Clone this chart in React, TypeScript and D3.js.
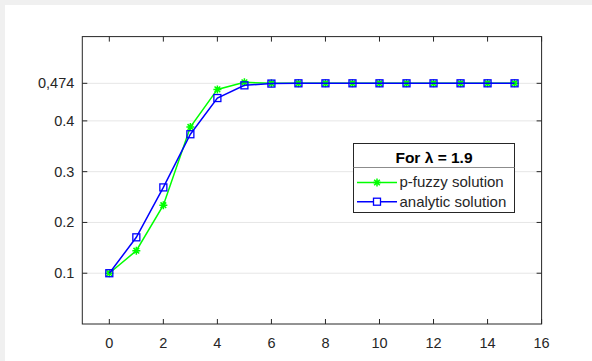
import React from 'react';
import * as d3 from 'd3';

// values
const steps = [0, 1, 2, 3, 4, 5, 6, 7, 8, 9, 10, 11, 12, 13, 14, 15];
const fuzzyValues = [0.1, 0.1444, 0.234, 0.388, 0.462, 0.476, 0.474, 0.474, 0.474, 0.474, 0.474, 0.474, 0.474, 0.474, 0.474, 0.474];
const analyticValues = [0.1, 0.1707, 0.269, 0.3737, 0.445, 0.47, 0.4735, 0.474, 0.474, 0.474, 0.474, 0.474, 0.474, 0.474, 0.474, 0.474];
const xTicks = [0, 2, 4, 6, 8, 10, 12, 14, 16];
const yTicks = [0.1, 0.2, 0.3, 0.4, 0.474];
const yTickLabels = ['0.1', '0.2', '0.3', '0.4', '0,474'];
const legendTitle = 'For \u03bb = 1.9';
const seriesNames = ['p-fuzzy solution', 'analytic solution'];

const W = 592;
const H = 361;
const left = 82.3;
const right = 541.6;
const top = 36.6;
const bottom = 324;
const font = '"Liberation Sans", Arial, Helvetica, sans-serif';
const textColor = '#262626';
const axisColor = '#262626';

const star = (cx: number, cy: number, r: number) => {
  let d = '';
  for (let k = 0; k < 4; k++) {
    const a = (k * Math.PI) / 4;
    const dx = r * Math.cos(a);
    const dy = r * Math.sin(a);
    d += `M${cx - dx},${cy - dy}L${cx + dx},${cy + dy}`;
  }
  return d;
};

export default function App() {
  const x = d3.scaleLinear().domain([-1, 16]).range([left, right]);
  const y = d3.scaleLinear().domain([0, 0.566]).range([bottom, top]);

  const line = d3
    .line<number>()
    .x((_, i) => x(steps[i]))
    .y(d => y(d));

  const tickLen = 5;

  const lx = 353.5;
  const ly = 143.5;
  const lw = 161;
  const lh = 69;

  return (
    <svg width={W} height={H} style={{ display: 'block', position: 'absolute', left: 0, top: 0 }}>
      <rect x={0} y={0} width={W} height={H} fill="#f0f0f0" />
      <rect x={5} y={5} width={W - 5} height={H - 5} fill="#ffffff" />

      {/* grid */}
      {yTicks.map((t, i) => (
        <line key={'g' + i} x1={left} x2={right} y1={y(t)} y2={y(t)} stroke="#e6e6e6" strokeWidth={1} />
      ))}

      {/* axes box */}
      <rect x={left} y={top} width={right - left} height={bottom - top} fill="none" stroke={axisColor} strokeWidth={1} />

      {xTicks.map((t, i) => (
        <g key={'x' + i}>
          <line x1={x(t)} x2={x(t)} y1={bottom} y2={bottom - tickLen} stroke={axisColor} />
          <line x1={x(t)} x2={x(t)} y1={top} y2={top + tickLen} stroke={axisColor} />
          <text x={x(t)} y={348} textAnchor="middle" fontFamily={font} fontSize={14.5} fill={textColor}>
            {t}
          </text>
        </g>
      ))}

      {yTicks.map((t, i) => (
        <g key={'y' + i}>
          <line x1={left} x2={left + tickLen} y1={y(t)} y2={y(t)} stroke={axisColor} />
          <line x1={right} x2={right - tickLen} y1={y(t)} y2={y(t)} stroke={axisColor} />
          <text x={left - 8} y={y(t) + 5} textAnchor="end" fontFamily={font} fontSize={14.5} fill={textColor}>
            {yTickLabels[i]}
          </text>
        </g>
      ))}

      {/* p-fuzzy */}
      <path d={line(fuzzyValues) || ''} fill="none" stroke="#00ff00" strokeWidth={1.5} />
      {fuzzyValues.map((v, i) => (
        <path key={'f' + i} d={star(x(steps[i]), y(v), 4)} stroke="#00ff00" strokeWidth={1.5} fill="none" />
      ))}

      {/* analytic */}
      <path d={line(analyticValues) || ''} fill="none" stroke="#0000ff" strokeWidth={1.5} />
      {analyticValues.map((v, i) => (
        <rect key={'a' + i} x={x(steps[i]) - 3.5} y={y(v) - 3.5} width={7} height={7} fill="none" stroke="#0000ff" strokeWidth={1.3} />
      ))}

      {/* legend */}
      <rect x={lx} y={ly} width={lw} height={lh} fill="#ffffff" stroke={axisColor} strokeWidth={1} />
      <line x1={lx} x2={lx + lw} y1={167.5} y2={167.5} stroke="#8c8c8c" strokeWidth={1.2} />
      <text x={434} y={162.5} textAnchor="middle" fontFamily={font} fontSize={15.5} fontWeight="bold" fill="#000">
        {legendTitle}
      </text>
      <line x1={357} x2={397} y1={182.5} y2={182.5} stroke="#00ff00" strokeWidth={1.5} />
      <path d={star(377, 182.5, 4)} stroke="#00ff00" strokeWidth={1.5} fill="none" />
      <text x={399.5} y={187} fontFamily={font} fontSize={15} fill={textColor}>
        {seriesNames[0]}
      </text>
      <line x1={357} x2={397} y1={201.7} y2={201.7} stroke="#0000ff" strokeWidth={1.5} />
      <rect x={377 - 3.5} y={201.7 - 3.5} width={7} height={7} fill="#ffffff" stroke="#0000ff" strokeWidth={1.3} />
      <text x={399.5} y={206.5} fontFamily={font} fontSize={15} fill={textColor}>
        {seriesNames[1]}
      </text>
    </svg>
  );
}
